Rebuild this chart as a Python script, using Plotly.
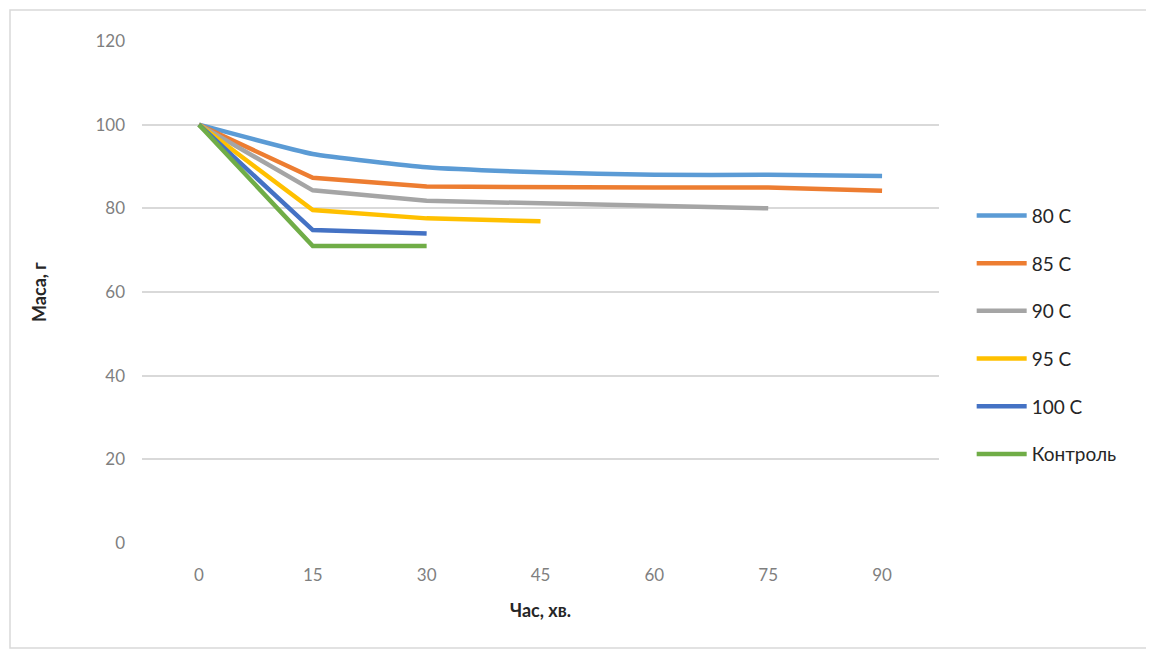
"""Маса зразків під час сушіння при різних температурах."""

import plotly.graph_objects as go

# Час, хв.
chas = [0, 15, 30, 45, 60, 75, 90]

# Маса, г (по серіях)
masa_80 = [100, 93.0, 89.8, 88.6, 88.0, 88.0, 87.7]
masa_85 = [100, 87.3, 85.2, 85.0, 85.0, 85.0, 84.2]
masa_90 = [100, 84.3, 81.8, 81.2, 80.6, 80.0]
masa_95 = [100, 79.6, 77.6, 76.9]
masa_100 = [100, 74.8, 74.0]
masa_kontrol = [100, 71.0, 71.0]

serii = [
    ("80 C", masa_80, "#5B9BD5"),
    ("85 C", masa_85, "#ED7D31"),
    ("90 C", masa_90, "#A5A5A5"),
    ("95 C", masa_95, "#FFC000"),
    ("100 C", masa_100, "#4472C4"),
    ("Контроль", masa_kontrol, "#70AD47"),
]

SHRIFT = "Lato, Open Sans, sans-serif"

fig = go.Figure()

for nazva, masa, kolir in serii:
    # лише верхня крива в оригіналі згладжена
    liniia = dict(color=kolir, width=4.5)
    if nazva == "80 C":
        liniia.update(shape="spline", smoothing=0.4)
    fig.add_trace(go.Scatter(
        x=chas[:len(masa)],
        y=masa,
        mode="lines",
        name=nazva,
        legendgroup=nazva,
        line=liniia,
    ))

# Рамка області діаграми (сторінка має відступ 8px)
fig.add_shape(
    type="rect", xref="paper", yref="paper",
    x0=(10 - 142) / 797, x1=(1148 - 142) / 797,
    y0=(543 - 648) / 502, y1=(543 - 10) / 502,
    line=dict(color="#D9D9D9", width=1.5),
    fillcolor="rgba(0,0,0,0)",
    layer="below",
)

fig.update_layout(
    width=1146,
    height=646,
    margin=dict(l=134, r=215, t=33, b=111),
    paper_bgcolor="white",
    plot_bgcolor="white",
    font=dict(family=SHRIFT, size=17, color="#7F7F7F"),
    showlegend=True,
    legend=dict(
        x=1.041, y=0.69, xanchor="left", yanchor="top",
        font=dict(family=SHRIFT, size=19, color="#262626"),
        tracegroupgap=20,
        itemwidth=50,
        bgcolor="rgba(0,0,0,0)",
    ),
    xaxis=dict(
        range=[-7.5, 97.5],
        tickvals=chas,
        ticktext=[str(v) for v in chas],
        showgrid=False,
        zeroline=False,
        showline=False,
        ticks="",
        ticklabelstandoff=20,
        title=dict(
            text="<b>Час, хв.</b>",
            font=dict(family=SHRIFT, size=18, color="#262626"),
            standoff=20,
        ),
    ),
    yaxis=dict(
        range=[0, 120],
        tickvals=[0, 20, 40, 60, 80, 100, 120],
        showgrid=True,
        gridcolor="#D9D9D9",
        gridwidth=1.5,
        zeroline=False,
        showline=False,
        ticks="",
        ticklabelstandoff=16,
        title=dict(
            text="<b>Маса, г</b>",
            font=dict(family=SHRIFT, size=18, color="#262626"),
            standoff=44,
        ),
    ),
)

fig.write_html("out.html")
